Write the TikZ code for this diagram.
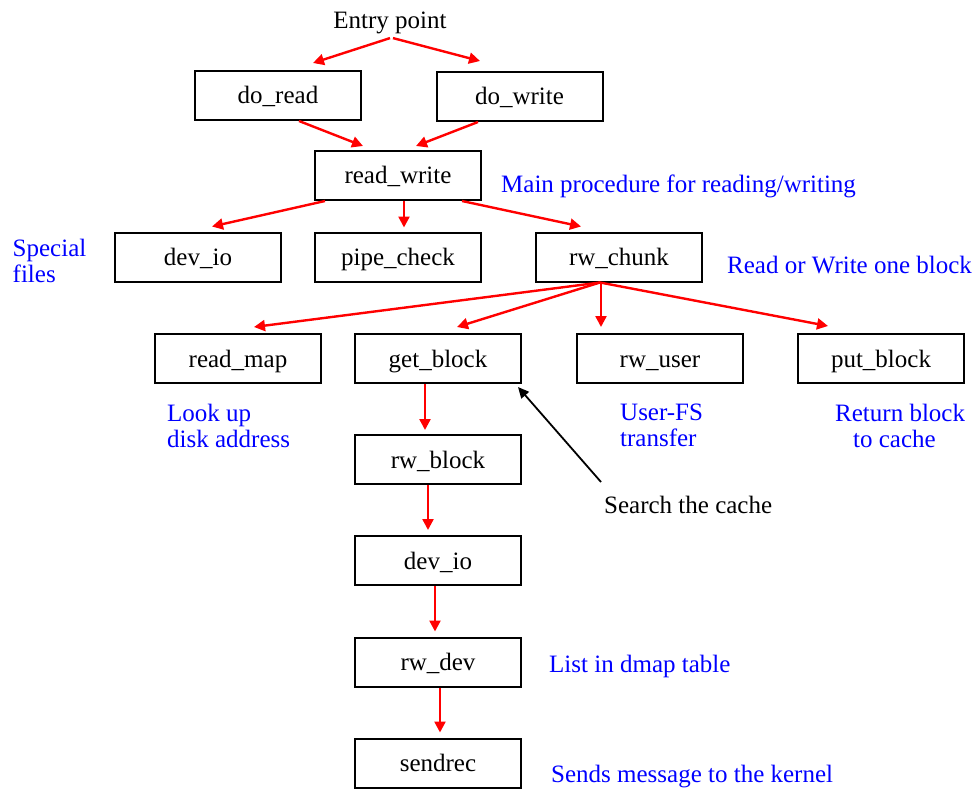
\documentclass[tikz,border=0pt]{standalone}
\usepackage{fontspec}
\setmainfont{Liberation Serif}
\usetikzlibrary{arrows.meta}
\begin{document}
\begin{tikzpicture}[x=1pt,y=-1pt,
  font=\fontsize{25}{26}\selectfont,
  fn/.style={draw=black,line width=2pt,minimum width=166pt,minimum height=49pt,
    inner sep=0pt,text height=20pt,text depth=3pt},
  note/.style={text=blue,inner sep=0pt,align=left},
  plain/.style={text=black,inner sep=0pt},
  call/.style={draw=red,line width=2.4pt,-{Triangle[length=11pt,width=11pt]}},
  hint/.style={draw=black,line width=1.8pt,-{Triangle[length=11pt,width=10pt]}}]
\useasboundingbox (0,0) rectangle (975,789);

% call-graph boxes
\node[fn] (doread)  at (278,95.5)  {do\_read};
\node[fn] (dowrite) at (519.5,96.5) {do\_write};
\node[fn] (rw)      at (398,175.5) {read\_write};
\node[fn] (devio)   at (198,257)   {dev\_io};
\node[fn] (pipe)    at (398,257)   {pipe\_check};
\node[fn] (chunk)   at (619,257)   {rw\_chunk};
\node[fn] (readmap) at (238,358.5) {read\_map};
\node[fn] (getblk)  at (438,358.5) {get\_block};
\node[fn] (rwuser)  at (660,358.5) {rw\_user};
\node[fn] (putblk)  at (881,358.5) {put\_block};
\node[fn] (rwblk)   at (438,459.5) {rw\_block};
\node[fn] (devio2)  at (438,560.5) {dev\_io};
\node[fn] (rwdev)   at (438,662)   {rw\_dev};
\node[fn] (sendrec) at (438,763)   {sendrec};

% labels (base west of a two-line note sits on its last line)
\node[plain,anchor=base] (entry) at (390,29) {Entry point};
\node[plain,anchor=base west] (search) at (604,513) {Search the cache};
\node[note,anchor=base west] (nmain) at (501,193) {Main procedure for reading/writing};
\node[note,anchor=base west] (nspec) at (12.5,282.5) {Special\\files};
\node[note,anchor=base west] (nchunk) at (727,273) {Read or Write one block};
\node[note,anchor=base west] (nlook) at (167,447) {Look up\\disk address};
\node[note,anchor=base west] (nuser) at (620,446.5) {User-FS\\transfer};
\node[note,anchor=base west] (nret) at (835,447.5) {Return block\\\hspace*{18pt}to cache};
\node[note,anchor=base west] (ndmap) at (549,672) {List in dmap table};
\node[note,anchor=base west] (nsend) at (551,782) {Sends message to the kernel};

% calls
\draw[call] ([yshift=-3.5pt]entry.south) -- ([xshift=35pt,yshift=7pt]doread.north);
\draw[call] ([xshift=3pt,yshift=-3.5pt]entry.south) -- ([xshift=-39.5pt,yshift=10pt]dowrite.north);
\draw[call] ([xshift=21pt]doread.south) -- ([xshift=-35pt,yshift=4pt]rw.north);
\draw[call] ([xshift=-41.5pt]dowrite.south) -- ([xshift=18pt,yshift=4pt]rw.north);
\draw[call] ([xshift=-73pt]rw.south) -- ([xshift=14pt,yshift=5pt]devio.north);
\draw[call] ([xshift=6pt]rw.south) -- ([xshift=6pt,yshift=4pt]pipe.north);
\draw[call] ([xshift=64pt]rw.south) -- ([xshift=-38pt,yshift=5pt]chunk.north);
\draw[call] ([xshift=-19pt]chunk.south) -- ([xshift=16pt,yshift=6pt]readmap.north);
\draw[call] ([xshift=-19pt]chunk.south) -- ([xshift=19pt,yshift=6pt]getblk.north);
\draw[call] ([xshift=-18pt]chunk.south) -- ([xshift=-59pt,yshift=6pt]rwuser.north);
\draw[call] ([xshift=-19pt]chunk.south) -- ([xshift=-53pt,yshift=7pt]putblk.north);
\draw[call] ([xshift=-13pt]getblk.south) -- ([xshift=-13pt,yshift=4pt]rwblk.north);
\draw[call] ([xshift=-10pt]rwblk.south) -- ([xshift=-10pt,yshift=5pt]devio2.north);
\draw[call] ([xshift=-3pt]devio2.south) -- ([xshift=-3pt,yshift=5pt]rwdev.north);
\draw[call] ([xshift=2pt]rwdev.south) -- ([xshift=2pt,yshift=5pt]sendrec.north);

% cache pointer
\coordinate (tail) at (601,482);
\draw[hint] (tail) -- ([xshift=-4pt,yshift=-3pt]getblk.south east);
\end{tikzpicture}
\end{document}
